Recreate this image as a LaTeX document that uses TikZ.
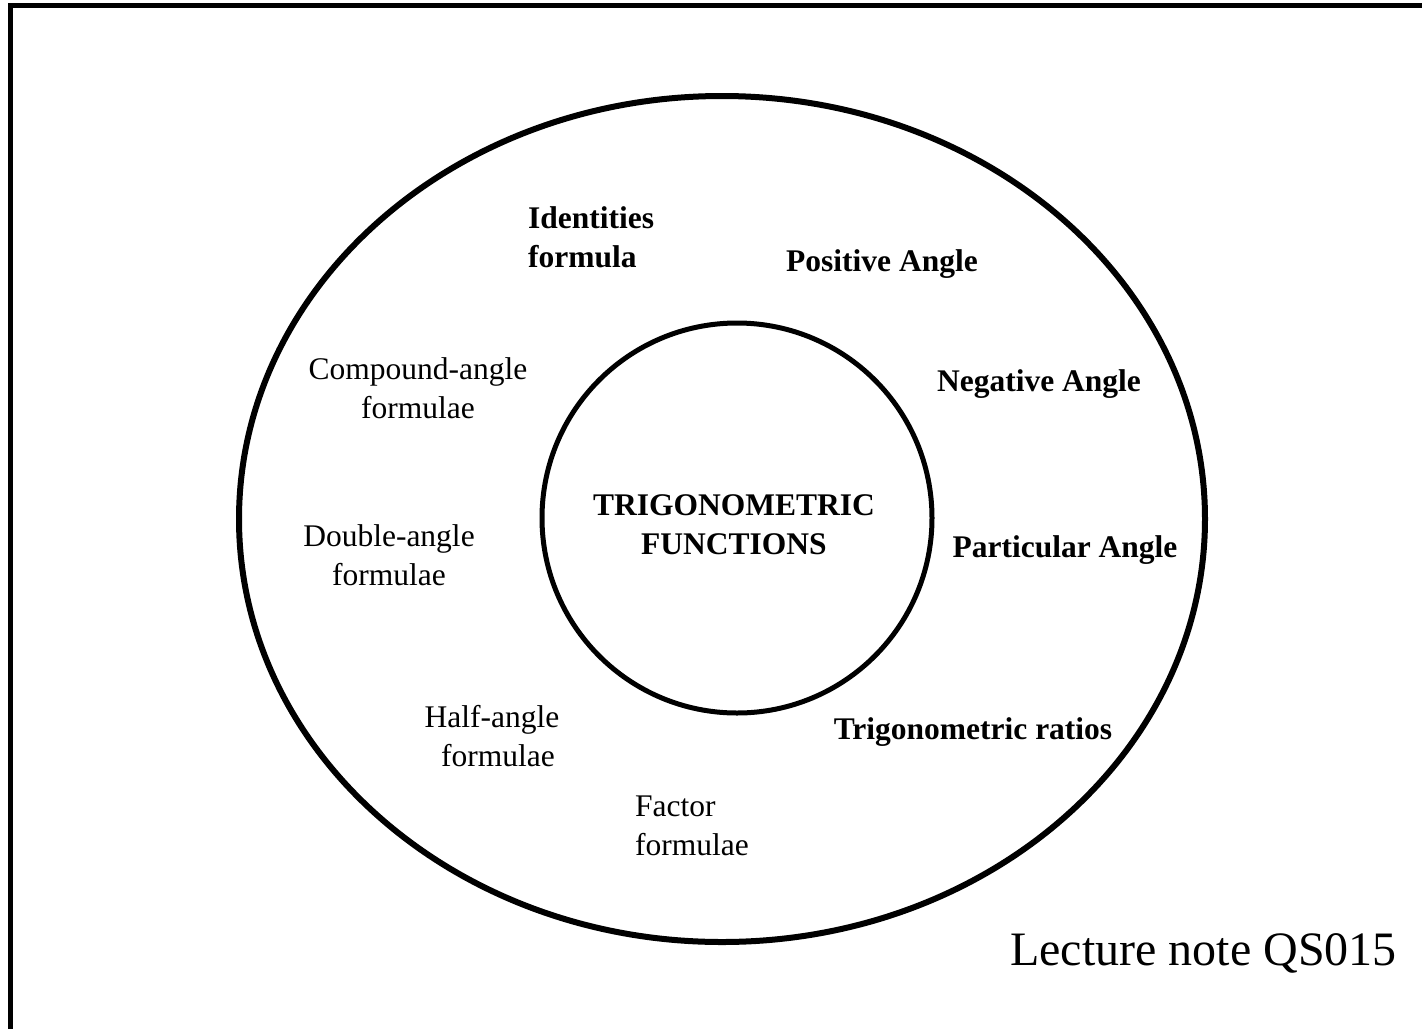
\documentclass[tikz,border=0pt]{standalone}
\usepackage{fontspec}
\setmainfont{Liberation Serif}
\usepackage{tikz}
\usetikzlibrary{positioning, calc}

\tikzset{
	topic/.style={font=\fontsize{31.5}{39}\selectfont\bfseries, inner sep=0pt, align=left},
	formula/.style={font=\fontsize{31.5}{39}\selectfont, inner sep=0pt, align=center},
}

\begin{document}
\begin{tikzpicture}[x=1pt, y=-1pt]
	\pgfmathsetmacro{\midx}{722}
	\pgfmathsetmacro{\midy}{519}
	\useasboundingbox (0,0) rectangle (1422,1029);
	% frame
	\draw[line width=5pt] (1422,5.8) -- (10.8,5.8) -- (10.8,1029);
	% rings
	\draw[line width=6pt] (\midx,\midy) ellipse [x radius=483, y radius=423];
	\draw[line width=5pt] (737,518) circle [radius=195];
	\node[topic, align=center] (trig) at (734,525) {TRIGONOMETRIC\\FUNCTIONS};
	% angles and ratios
	\node[topic, anchor=west] (identities) at (528,237) {Identities\\formula};
	\node[topic] (posangle) at (882,264) {Positive Angle};
	\node[topic] (negangle) at (1039,384) {Negative Angle};
	\node[topic] (partangle) at (1065,550) {Particular Angle};
	\node[topic] (ratios) at (973,732) {Trigonometric ratios};
	% formulae
	\node[formula] (compound) at (418,388) {Compound-angle\\formulae};
	\node[formula] (double) at (389,555) {Double-angle\\formulae};
	\node[formula] (half) at (492,736) {Half-angle\\\hspace{12pt}formulae};
	\node[formula, anchor=west, align=left] (factor) at (635,826) {Factor\\formulae};
	\node[font=\fontsize{48}{58}\selectfont, inner sep=0pt, anchor=base east] (lecture) at (1397,965) {Lecture note QS015};
\end{tikzpicture}
\end{document}
